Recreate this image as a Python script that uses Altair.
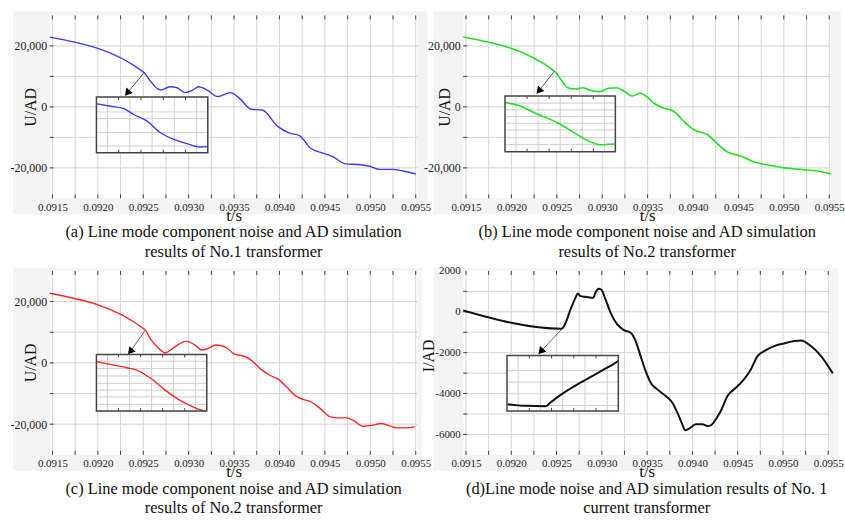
import altair as alt
import pandas as pd

FONT = "Liberation Serif"

# ---------------- main curves ----------------
A_T = [0.09147, 0.09250, 0.09257, 0.09266, 0.09270, 0.09279, 0.09287, 0.09296, 0.09304, 0.09311,
       0.09321, 0.09332, 0.09346, 0.09356, 0.09369, 0.09381, 0.09398, 0.09411, 0.09422, 0.09434,
       0.09447, 0.09458, 0.09473, 0.09487, 0.09498, 0.09511, 0.09524, 0.09537, 0.09550]
A_V = [22900, 11500, 8800, 5900, 5500, 6600, 6300, 4700, 5400, 6600,
       5400, 3400, 4700, 2800, -760, -1000, -6400, -8600, -9400, -13500,
       -15100, -16200, -18700, -18900, -19400, -20500, -20500, -21100, -22000]

B_T = [0.09147, 0.09247, 0.09255, 0.09262, 0.09270, 0.09279, 0.09286, 0.09297, 0.09307, 0.09316,
       0.09325, 0.09333, 0.09342, 0.09349, 0.09357, 0.09368, 0.09379, 0.09390, 0.09401, 0.09416,
       0.09429, 0.09438, 0.09453, 0.09468, 0.09486, 0.09501, 0.09520, 0.09538, 0.09552]
B_V = [22900, 11850, 8800, 6300, 5870, 6300, 5540, 5000, 6090, 6300,
       5000, 3590, 4460, 3370, 1200, -430, -1520, -4780, -7500, -9130,
       -12720, -14780, -16200, -18150, -19240, -20000, -20540, -21090, -21960]

C_T = [0.09147, 0.09252, 0.09258, 0.09266, 0.09274, 0.09284, 0.09297, 0.09308, 0.09314, 0.09320,
       0.09330, 0.09341, 0.09350, 0.09361, 0.09368, 0.09379, 0.09390, 0.09399, 0.09408, 0.09417,
       0.09426, 0.09435, 0.09445, 0.09456, 0.09466, 0.09474, 0.09481, 0.09492, 0.09503, 0.09512,
       0.09521, 0.09529, 0.09539, 0.09549]
C_V = [22700, 10810, 7780, 5080, 3240, 5080, 7030, 5620, 4220, 4540,
       5840, 5080, 2920, 2160, 1080, -1950, -4110, -5400, -7890, -10590,
       -11890, -12760, -14920, -17620, -17950, -17950, -18700, -20650, -20320, -19780,
       -20540, -21190, -21190, -20860]

D_T = [0.09147, 0.092555, 0.09260, 0.092654, 0.092709, 0.092735, 0.092765, 0.09282, 0.092905, 0.092931,
       0.092968, 0.092993, 0.093041, 0.093097, 0.09317, 0.093244, 0.093318, 0.093373, 0.093428, 0.093484,
       0.093539, 0.093613, 0.093705, 0.093779, 0.093834, 0.093889, 0.093919, 0.093963, 0.094037, 0.094111,
       0.094166, 0.094203, 0.094258, 0.094313, 0.094387, 0.09448, 0.094553, 0.094645, 0.094719, 0.094793,
       0.094903, 0.095014, 0.095125, 0.095199, 0.095309, 0.09542, 0.09555]
D_V = [65, -830, -540, 114, 684, 896, 766, 733, 684, 961,
       1124, 1092, 603, -49, -619, -896, -1026, -1434, -2167, -2900,
       -3470, -3796, -4122, -4448, -4937, -5507, -5800, -5719, -5507, -5507,
       -5589, -5556, -5263, -4855, -4122, -3715, -3389, -2819, -2167, -1923,
       -1678, -1548, -1434, -1400, -1678, -2167, -3014]

# ---------------- inset curves (normalised zoom windows) ----------------
IA_X = [0.006, 0.126, 0.246, 0.335, 0.455, 0.575, 0.695, 0.814, 0.934, 0.994]
IA_Y = [0.875, 0.833, 0.792, 0.685, 0.565, 0.357, 0.238, 0.161, 0.101, 0.107]
IB_X = [0.0, 0.125, 0.275, 0.484, 0.633, 0.752, 0.857, 0.99]
IB_Y = [0.887, 0.827, 0.69, 0.51, 0.333, 0.196, 0.125, 0.137]
IC_X = [0.006, 0.126, 0.275, 0.365, 0.485, 0.635, 0.754, 0.874, 0.979]
IC_Y = [0.871, 0.824, 0.765, 0.724, 0.588, 0.353, 0.194, 0.076, 0.0]
ID_X = [0.006, 0.17, 0.349, 0.379, 0.498, 0.618, 0.737, 0.857, 0.976, 1.0]
ID_Y = [0.125, 0.095, 0.089, 0.137, 0.315, 0.464, 0.595, 0.732, 0.869, 0.905]

INSET_VGRID = [0.1, 0.3, 0.5, 0.7, 0.9]
INSET_TICKS = [0.2, 0.4, 0.6, 0.8]
IA_HGRID = [0.73, 0.61, 0.36, 0.12]
IB_HGRID = [0.87, 0.75, 0.63, 0.51, 0.39, 0.25, 0.13]
IC_HGRID = [0.88, 0.75, 0.62, 0.49, 0.37, 0.25, 0.12]
ID_HGRID = [0.73, 0.52, 0.31, 0.10]

# arrows: start on curve, end near inset (data units)
ARROW_A = [0.09251, 11300, 0.092324, 4565]
ARROW_B = [0.09247, 11600, 0.092302, 5217]
ARROW_C = [0.09252, 10600, 0.092357, 3684]
ARROW_D = [0.092555, -860, 0.092326, -1942]

X_DOMAIN = [0.09147, 0.09552]
X_TICKS = [0.0915 + 0.00025 * i for i in range(17)]
X_LABELS = [0.0915 + 0.0005 * i for i in range(9)]
U_LABELS = [-20000, 0, 20000]
U_GRID = [-20000, -10000, 0, 10000, 20000]
I_LABELS = [-6000, -4000, -2000, 0, 2000]
I_GRID = [-6000, -5000, -4000, -3000, -2000, -1000, 0, 1000]

CAPTIONS = {
    "a": ["(a) Line mode component noise and AD simulation", "results of No.1 transformer"],
    "b": ["(b) Line mode component noise and AD simulation", "results of No.2 transformer"],
    "c": ["(c) Line mode component noise and AD simulation", "results of No.2 transformer"],
    "d": ["(d)Line mode noise and AD simulation results of No. 1", "current transformer"],
}

GRID_C = "#d4d4d4"
TICK_C = "#444"


def panel(t, v, color, sw, ydom, ylabels, ygrid, yfmt, ylab_size, ytitle, ytitle_x, ytitle_y,
          ix, iy, hgrid, box, arrow, caption, w, h, bgbox):
    x_scale = alt.Scale(domain=X_DOMAIN, nice=False, zero=False)
    y_scale = alt.Scale(domain=ydom, nice=False, zero=False)
    x_axis = alt.Axis(values=X_LABELS, format=".4f", title="t/s", grid=False, ticks=False, domain=False,
                      labelFont=FONT, labelFontSize=11, labelColor="#222", labelPadding=3,
                      titleFont=FONT, titleFontSize=17, titleFontWeight="normal", titleColor="#111",
                      titleY=9, titleBaseline="top", labelFlush=False, labelOverlap=False, zindex=2)
    y_axis = alt.Axis(values=ylabels, format=yfmt, title=ytitle, grid=False, ticks=False, domain=False,
                      labelFont=FONT, labelFontSize=ylab_size, labelColor="#222", labelPadding=3,
                      titleFont=FONT, titleFontSize=16, titleFontWeight="normal", titleColor="#111",
                      titleX=ytitle_x, titleY=ytitle_y, titleAngle=270, titleBaseline="middle",
                      labelOverlap=False, labelFlush=False, zindex=2)

    one = pd.DataFrame({"k": [0]})
    bx0, bx1, by0, by1 = bgbox
    outer = alt.Chart(one).mark_rect(fill="#f4f4f4").encode(
        x=alt.value(bx0), x2=alt.value(w + bx1), y=alt.value(by0), y2=alt.value(h + by1))
    inner = alt.Chart(one).mark_rect(fill="white").encode(
        x=alt.value(0), x2=alt.value(w), y=alt.value(0), y2=alt.value(h))

    ygdf = pd.DataFrame({"v": ygrid})
    ygrid_m = alt.Chart(ygdf).mark_rule(color=GRID_C, strokeWidth=1).encode(
        y=alt.Y("v:Q", scale=y_scale, axis=y_axis), x=alt.value(0), x2=alt.value(w))
    ytick_m = alt.Chart(ygdf).mark_rule(color=TICK_C, strokeWidth=1).encode(
        y=alt.Y("v:Q", scale=y_scale, axis=y_axis), x=alt.value(0), x2=alt.value(4))
    xgdf = pd.DataFrame({"t": X_TICKS})
    xgrid_m = alt.Chart(xgdf).mark_rule(color=GRID_C, strokeWidth=1).encode(
        x=alt.X("t:Q", scale=x_scale, axis=x_axis), y=alt.value(0), y2=alt.value(h))
    xtick_b = alt.Chart(xgdf).mark_rule(color=TICK_C, strokeWidth=1).encode(
        x=alt.X("t:Q", scale=x_scale, axis=x_axis), y=alt.value(h - 4), y2=alt.value(h))
    xtick_t = alt.Chart(xgdf).mark_rule(color=TICK_C, strokeWidth=1).encode(
        x=alt.X("t:Q", scale=x_scale, axis=x_axis), y=alt.value(0), y2=alt.value(4))

    df = pd.DataFrame({"t": t, "v": v})
    line = alt.Chart(df).mark_line(color=color, strokeWidth=sw, interpolate="monotone").encode(
        x=alt.X("t:Q", scale=x_scale, axis=x_axis),
        y=alt.Y("v:Q", scale=y_scale, axis=y_axis),
    )
    adf = pd.DataFrame({"t": [arrow[0]], "v": [arrow[1]], "t2": [arrow[2]], "v2": [arrow[3]]})
    arr = alt.Chart(adf).mark_rule(color="#555", strokeWidth=0.9).encode(
        x=alt.X("t:Q", scale=x_scale, axis=x_axis), y=alt.Y("v:Q", scale=y_scale, axis=y_axis),
        x2="t2:Q", y2="v2:Q")
    head = alt.Chart(adf).mark_point(shape="triangle-up", filled=True, color="black", size=70,
                                     angle=220, opacity=1).encode(
        x=alt.X("t2:Q", scale=x_scale, axis=x_axis), y=alt.Y("v2:Q", scale=y_scale, axis=y_axis))
    main = alt.layer(outer, inner, ygrid_m, xgrid_m, ytick_m, xtick_b, xtick_t, line, arr, head)

    x0, x1, y0, y1 = box
    ixs = alt.Scale(domain=[0, 1], range=[x0, x1], nice=False, zero=False)
    iys = alt.Scale(domain=[0, 1], range=[y1, y0], nice=False, zero=False)
    bg = alt.Chart(one).mark_rect(fill="white").encode(
        x=alt.value(x0), x2=alt.value(x1), y=alt.value(y0), y2=alt.value(y1))
    vg = alt.Chart(pd.DataFrame({"gx": INSET_VGRID})).mark_rule(color="#cfcfcf", strokeWidth=1).encode(
        x=alt.X("gx:Q", scale=ixs, axis=None), y=alt.value(y0), y2=alt.value(y1))
    hg = alt.Chart(pd.DataFrame({"gy": hgrid})).mark_rule(color="#cfcfcf", strokeWidth=1).encode(
        y=alt.Y("gy:Q", scale=iys, axis=None), x=alt.value(x0), x2=alt.value(x1))
    tk_top = alt.Chart(pd.DataFrame({"gx": INSET_TICKS})).mark_rule(color="#444", strokeWidth=1).encode(
        x=alt.X("gx:Q", scale=ixs, axis=None), y=alt.value(y0), y2=alt.value(y0 + 3))
    tk_bot = alt.Chart(pd.DataFrame({"gx": INSET_TICKS})).mark_rule(color="#444", strokeWidth=1).encode(
        x=alt.X("gx:Q", scale=ixs, axis=None), y=alt.value(y1 - 3), y2=alt.value(y1))
    icurve = alt.Chart(pd.DataFrame({"ix": ix, "iy": iy})).mark_line(
        color=color, strokeWidth=sw, interpolate="monotone").encode(
        x=alt.X("ix:Q", scale=ixs, axis=None), y=alt.Y("iy:Q", scale=iys, axis=None))
    frame = alt.Chart(one).mark_rect(fill="transparent", stroke="#444", strokeWidth=1.5).encode(
        x=alt.value(x0), x2=alt.value(x1), y=alt.value(y0), y2=alt.value(y1))
    inset = alt.layer(bg, vg, hg, tk_top, tk_bot, icurve, frame)

    return alt.layer(main, inset).resolve_scale(x="independent", y="independent").properties(
        width=w, height=h,
        title=alt.TitleParams(text=caption, orient="bottom", anchor="middle", font=FONT, fontSize=16.5,
                              fontWeight="normal", color="#111", lineHeight=19.5, offset=1),
    )


pa = panel(A_T, A_V, "#3a3af2", 1.4, [-30000, 30000], U_LABELS, U_GRID, ",.0f", 12, "U/AD", -19, 92,
           IA_X, IA_Y, IA_HGRID, (47, 159, 82, 138), ARROW_A, CAPTIONS["a"], 370, 184, (-37, 10, -4, 16))
pb = panel(B_T, B_V, "#1fe01f", 1.6, [-30000, 30000], U_LABELS, U_GRID, ",.0f", 12, "U/AD", -19, 92,
           IB_X, IB_Y, IB_HGRID, (42, 153, 81, 137), ARROW_B, CAPTIONS["b"], 370, 184, (-30, 10, -4, 16))
pc = panel(C_T, C_V, "#ff2424", 1.4, [-30000, 30000], U_LABELS, U_GRID, ",.0f", 12, "U/AD", -19, 92,
           IC_X, IC_Y, IC_HGRID, (47, 158, 84, 141), ARROW_C, CAPTIONS["c"], 370, 185, (-37, 4, -3, 16))
pdd = panel(D_T, D_V, "#111111", 2.0, [-7000, 2000], I_LABELS, I_GRID, "d", 11, "I/AD", -35, 85,
            ID_X, ID_Y, ID_HGRID, (44, 156, 85, 141), ARROW_D, CAPTIONS["d"], 369, 185, (-30, 8, -3, 16))

chart = alt.concat(pa, pb, pc, pdd, columns=2, spacing={"row": 73, "column": 46}, bounds="flush").properties(
    padding={"left": 9, "top": 9, "right": 0, "bottom": 0},
    background="white",
).configure_view(stroke="#555", strokeWidth=1.5).configure(
    locale={"number": {"decimal": ".", "thousands": ",", "grouping": [3], "currency": ["$", ""], "minus": "-"}}
)

chart.save("out.html", embed_options={"renderer": "svg", "actions": False})
